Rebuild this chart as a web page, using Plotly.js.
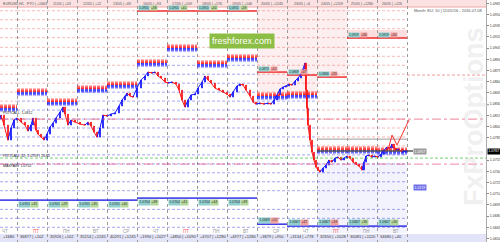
<!DOCTYPE html>
<html><head><meta charset="utf-8">
<script src="https://cdn.plot.ly/plotly-3.0.1.min.js"></script>
<style>html,body{margin:0;padding:0;background:#fff}#chart{width:500px;height:242px}</style>
</head><body><div id="chart"></div>
<script>
// ---- price series (hours from start, close prices) ----
const hours = [11.2,13.6,16.8,19.2,21.6,24,27.2,30.4,32.8,35.2,36.8,39.2,40.8,43.2,45.6,48,50.4,52.8,55.2,58.4,60.8,62.4,64.8,67.2,70.4,74.4,78.4,80.8,83.2,85.6,88,90.4,92.8,96,99.2,102.4,105.6,108,110.4,112,114.4,116.8,120,123.2,126.4,128.8,132,134.4,136.8,139.2,142.4,144.8,148,151.2,153.6,156,158.4,160.8,163.2,166.4,168.8,172,174.4,176.8,179.2,182.4,185.6,188.8,192,194.4,196.8,200,202.4,204.8,207.2,210.4,212.8,215.2,218.4,221.6,224.8,227.2,229.6,232,234.4,236.8,239.2,241.6,244,246.4,248.8,251.2,252.8,254.4,255.2,256,256.8,258.4,260,261.6,263.2,264.8,266.4,268.8,271.2,273.6,276,278.4,280.8,283.2,285.6,288,290.4,292.8,295.2,297.6,300,301.6,303.2,305.6,308,310.4,312.8,315.2,317.6,320,322.4,324,325.6,327.2,329.6,332,334.4,336];
const closes = [1.08153,1.08019,1.07818,1.07979,1.08086,1.08113,1.08059,1.08019,1.07939,1.08019,1.08113,1.07952,1.07898,1.07858,1.07818,1.07898,1.07992,1.08046,1.08113,1.08193,1.08260,1.08166,1.08019,1.08086,1.08059,1.08032,1.08019,1.08059,1.08006,1.07925,1.07858,1.07979,1.08153,1.08140,1.08166,1.08180,1.08274,1.08354,1.08408,1.08448,1.08408,1.08394,1.08515,1.08622,1.08676,1.08729,1.08716,1.08729,1.08676,1.08649,1.08595,1.08582,1.08595,1.08568,1.08488,1.08354,1.08260,1.08354,1.08421,1.08434,1.08515,1.08595,1.08676,1.08622,1.08582,1.08515,1.08488,1.08461,1.08434,1.08394,1.08461,1.08542,1.08568,1.08555,1.08488,1.08408,1.08327,1.08300,1.08314,1.08300,1.08314,1.08300,1.08354,1.08421,1.08501,1.08528,1.08542,1.08568,1.08555,1.08609,1.08649,1.08702,1.08769,1.08850,1.08488,1.08247,1.08019,1.07818,1.07657,1.07550,1.07456,1.07416,1.07389,1.07443,1.07483,1.07550,1.07523,1.07577,1.07590,1.07550,1.07577,1.07604,1.07577,1.07523,1.07496,1.07470,1.07416,1.07523,1.07604,1.07617,1.07590,1.07604,1.07590,1.07630,1.07684,1.07724,1.07711,1.07764,1.07711,1.07684,1.07697,1.07657,1.07671,1.07671];
// forecast path
const fcHours = [320.8,324,328,331.2,337.6];
const fcPrices = [1.07684,1.07885,1.07751,1.07858,1.08086];

// price axis labels (the one under the current-price box is hidden, as in the reference)
const priceTicks = [1.0965,1.0950,1.0935,1.0920,1.0905,1.0890,1.0875,1.0860,1.0845,1.0830,1.0815,1.0800,1.0785,1.0755,1.0740,1.0725,1.0710,1.0695,1.0680,1.0665,1.0650];

// ---- day segments ----
const segEdges = [10.4,24,48,72,96,120,144,168,192,216,240,264,288,312,336];
const dayLines = [24,48,72,96,120,144,168,192,216,240,264,288,312,336];
const weekdays = ["ЧТ","ПТ","ПН","ВТ","СР","ЧТ","ПТ","ПН","ВТ","СР","ЧТ","ПТ","ПН","ВТ"];
const topLabels = ["EURUSD,H1 · FTO | +1663","","11/05 | +53","12/05 | +12","13/05 | +69","16/05 | +93","17/05 | +109","18/05 | +176","19/05 | +146","20/05 | +1245","23/05 | +6","24/05 | +1209","25/05 | +1280","26/05 | +126"];
const bottomLabels = ["+1680","36877 | +102","35926 | +102","35214 | +1245","40291 | +1245","+1990 | +1027","+4850 | +1090","+4707 | +1280","+4977 | +1280","+3879 | +950","+3134 | +778","32650 | +1028","30081 | +1120","34680 | +40"];

// option strike levels and per-day band centres
const strikes = [1.0955,1.0943,1.0931,1.0919,1.0906,1.0894,1.0882,1.0870,1.0858,1.0846,1.0834,1.0822,1.0810,1.0798,1.0786,1.0774,1.0762,1.0750,1.0738,1.0726,1.0714,1.0689,1.0677,1.0665];
const bandCenters = [1.08247,1.08461,1.08327,1.08501,1.08555,1.08850,1.09051,1.08836,1.08917,1.08408,1.08421,1.07684,1.07684,1.07671];
const bandOffsets = [0.00008,0.00016,0.00024,0.00032,0.0004,0.00048];
const segMax = [null,null,null,null,null,1.09547,1.09547,1.09547,1.09547,1.08729,1.08689,1.08662,1.09185,1.09185];
const segMin = [1.07014,1.07014,1.07014,1.07014,1.07014,1.07041,1.07041,1.07041,1.07041,1.06692,1.06666,1.06666,1.06666,1.06666];
const maxTags = ["","","","","","1.0955","1.0955","1.0955","1.0955","1.0873","1.0869","1.0866","1.0919","1.0919"];
const minTags = ["1.0701","1.0701","1.0701","1.0701","1.0701","1.0704","1.0704","1.0704","1.0704","1.0669","1.0667","1.0667","1.0667","1.0667"];
const tagVals = ["+28","+31","+29","+35","+40","+38","+41","+44","+39","+52","+47","+33","+36","+30"];

// long levels
const levelDashDot = 1.08099;
const levelGreen = 1.07577;
const levelPink = 1.07496;
const levelRight = 1.08689;
const levelGray = 1.07831;
const levelBlueTag = 1.07188;
const lastPrice = closes[closes.length-1];

const traces = [];
function segLines(filterFn){
  const x=[],y=[];
  for(let i=0;i<bandCenters.length;i++){
    strikes.forEach(s=>{ if(filterFn(s,i)){ x.push(segEdges[i],segEdges[i+1],null); y.push(s,s,null);} });
  }
  return {x,y};
}
const red = segLines((s,i)=> s>bandCenters[i]+0.0003);
const blue = segLines((s,i)=> s<bandCenters[i]-0.0003);
traces.push({type:'scatter',mode:'lines',x:red.x,y:red.y,line:{color:'rgba(235,90,90,0.42)',width:1,dash:'3px,2px'},hoverinfo:'skip'});
traces.push({type:'scatter',mode:'lines',x:blue.x,y:blue.y,line:{color:'rgba(60,60,225,0.45)',width:1,dash:'3px,2px'},hoverinfo:'skip'});

bandOffsets.forEach((o,k)=>{
  const xr=[],yr=[],xb=[],yb=[];
  for(let i=0;i<bandCenters.length;i++){
    xr.push(segEdges[i],segEdges[i+1],null); yr.push(bandCenters[i]+o,bandCenters[i]+o,null);
    xb.push(segEdges[i],segEdges[i+1],null); yb.push(bandCenters[i]-o,bandCenters[i]-o,null);
  }
  const a = 0.9 - k*0.14;
  traces.push({type:'scatter',mode:'lines',x:xr,y:yr,line:{color:`rgba(255,30,30,${a})`,width:1,dash:'3px,1px'},hoverinfo:'skip'});
  traces.push({type:'scatter',mode:'lines',x:xb,y:yb,line:{color:`rgba(30,30,255,${a})`,width:1,dash:'3px,1px'},hoverinfo:'skip'});
});

// max / min solid lines
(function(){
  const xm=[],ym=[],xn=[],yn=[];
  for(let i=0;i<segMax.length;i++){
    if(segMax[i]!==null){xm.push(segEdges[i],segEdges[i+1],null); ym.push(segMax[i],segMax[i],null);}
    xn.push(segEdges[i],segEdges[i+1],null); yn.push(segMin[i],segMin[i],null);
  }
  traces.push({type:'scatter',mode:'lines',x:xm,y:ym,line:{color:'#f03030',width:1.5},hoverinfo:'skip'});
  traces.push({type:'scatter',mode:'lines',x:xn,y:yn,line:{color:'#3030e8',width:1.5},hoverinfo:'skip'});
})();

const xFull=[10.4,399.2];
traces.push({type:'scatter',mode:'lines',x:xFull,y:[levelDashDot,levelDashDot],line:{color:'rgba(230,80,110,0.7)',width:1,dash:'dashdot'},hoverinfo:'skip'});
traces.push({type:'scatter',mode:'lines',x:xFull,y:[levelGreen,levelGreen],line:{color:'rgba(60,190,60,0.7)',width:1,dash:'3px,2px'},hoverinfo:'skip'});
traces.push({type:'scatter',mode:'lines',x:xFull,y:[levelPink,levelPink],line:{color:'rgba(240,80,140,0.7)',width:1,dash:'dashdot'},hoverinfo:'skip'});
traces.push({type:'scatter',mode:'lines',x:[336,399.2],y:[levelRight,levelRight],line:{color:'rgba(235,90,90,0.6)',width:1,dash:'3px,2px'},hoverinfo:'skip'});
traces.push({type:'scatter',mode:'lines',x:[264,336],y:[levelGray,levelGray],line:{color:'#9a9a9a',width:1},hoverinfo:'skip'});
traces.push({type:'scatter',mode:'lines',x:[264,340.8],y:[lastPrice,lastPrice],line:{color:'#555',width:1.5},hoverinfo:'skip'});

// price path: rising steps blue, falling steps red
(function(){
  const ux=[],uy=[],dx=[],dy=[];
  for(let i=1;i<closes.length;i++){
    const tx = closes[i]>=closes[i-1] ? [ux,uy] : [dx,dy];
    tx[0].push(hours[i-1],hours[i],null); tx[1].push(closes[i-1],closes[i],null);
  }
  traces.push({type:'scatter',mode:'lines',x:ux,y:uy,line:{color:'#1515ff',width:1},hoverinfo:'skip'});
  traces.push({type:'scatter',mode:'lines',x:dx,y:dy,line:{color:'#ff1515',width:1},hoverinfo:'skip'});
})();
const opens = closes.map((c,i)=> i===0 ? 1.0810 : closes[i-1]);
traces.push({type:'candlestick', x:hours, open:opens, close:closes,
  high:closes.map((c,i)=>Math.max(c,opens[i])), low:closes.map((c,i)=>Math.min(c,opens[i])),
  increasing:{line:{color:'#1010ff',width:1},fillcolor:'#1010ff'},
  decreasing:{line:{color:'#ff1010',width:1},fillcolor:'#ff1010'},
  whiskerwidth:0, hoverinfo:'skip'});
traces.push({type:'scatter',mode:'lines',x:fcHours,y:fcPrices,line:{color:'#ff3030',width:1},hoverinfo:'skip'});

// shapes
const shapes = [
  {type:'rect',xref:'paper',yref:'paper',x0:0,x1:1,y0:1-7/242,y1:1,fillcolor:'#fbe1e1',line:{width:0},layer:'below'},
  {type:'line',xref:'paper',yref:'paper',x0:0,x1:1,y0:1-7/242,y1:1-7/242,line:{color:'#f4a8a8',width:1},layer:'below'},
  {type:'rect',xref:'paper',yref:'paper',x0:0,x1:1,y0:0,y1:8/242,fillcolor:'#e4e4f8',line:{width:0},layer:'below'},
  {type:'rect',xref:'x',yref:'y',x0:216,x1:264,y0:1.08461,y1:1.09600,fillcolor:'rgba(250,215,215,0.4)',line:{width:0},layer:'below'},
  {type:'rect',xref:'x',yref:'y',x0:264,x1:288,y0:1.08662,y1:1.09600,fillcolor:'rgba(250,215,215,0.4)',line:{width:0},layer:'below'},
  {type:'rect',xref:'x',yref:'y',x0:288,x1:336,y0:1.09185,y1:1.09292,fillcolor:'rgba(250,200,200,0.6)',line:{width:0},layer:'below'},
  {type:'rect',xref:'x',yref:'y',x0:264,x1:336,y0:1.06572,y1:1.07496,fillcolor:'rgba(215,215,248,0.3)',line:{width:0},layer:'below'}
];

const ann = [];
const F = 'Liberation Sans, Arial';
const tiny = {family:F,size:3.6,color:'#555'};
for(let i=0;i<14;i++){
  const c=(segEdges[i]+segEdges[i+1])/2;
  if(i===0){
    ann.push({x:11.2,y:1,xref:'x',yref:'paper',xanchor:'left',yanchor:'top',yshift:0.5,text:topLabels[0],showarrow:false,font:tiny});
    ann.push({x:14.4,y:1.06590,xref:'x',yref:'y',text:weekdays[0],showarrow:false,font:{family:F,size:4.5,color:'#999'}});
  } else {
    if(topLabels[i]) ann.push({x:c,y:1,xref:'x',yref:'paper',yanchor:'top',yshift:0.5,text:topLabels[i],showarrow:false,font:tiny});
    ann.push({x:c+3,y:1.06590,xref:'x',yref:'y',text:weekdays[i],showarrow:false,font:{family:F,size:4.5,color:weekdays[i]==='ПТ'?'#ff5a5a':'#999'}});
  }
  ann.push({x:segEdges[i]+0.8,y:0.0,xref:'x',yref:'paper',xanchor:'left',yanchor:'bottom',yshift:1,text:bottomLabels[i],showarrow:false,font:{family:F,size:4,color:'#333'}});
  if(i>0){
    const below = i<9;
    ann.push({x:segEdges[i]+0.8,y:segMin[i],xref:'x',yref:'y',xanchor:'left',yanchor:below?'top':'bottom',yshift:below?-0.5:0.5,text:minTags[i],showarrow:false,bgcolor:'#8fd0cf',borderpad:0.3,font:{family:F,size:3.5,color:'#333'}});
    ann.push({x:segEdges[i]+10,y:segMin[i],xref:'x',yref:'y',xanchor:'left',yanchor:below?'top':'bottom',yshift:below?-0.5:0.5,text:tagVals[i],showarrow:false,bgcolor:i>=9&&i<=11?'#f2a0a0':'#b4d89a',borderpad:0.3,font:{family:F,size:3.5,color:'#333'}});
  }
  if(segMax[i]!==null){
    ann.push({x:segEdges[i]+0.8,y:segMax[i],xref:'x',yref:'y',xanchor:'left',yanchor:'bottom',yshift:-0.3,text:maxTags[i],showarrow:false,bgcolor:'#8fd0cf',borderpad:0,font:{family:F,size:3.2,color:'#333'}});
    ann.push({x:segEdges[i]+10,y:segMax[i],xref:'x',yref:'y',xanchor:'left',yanchor:'bottom',yshift:-0.3,text:tagVals[i],showarrow:false,bgcolor:i>=9?'#f2a0a0':'#b4d89a',borderpad:0,font:{family:F,size:3.2,color:'#333'}});
  }
}
// left info texts
ann.push({x:11.2,y:1.08125,xref:'x',yref:'y',xanchor:'left',yanchor:'bottom',text:'PUT/CALL: 1.0812',showarrow:false,font:{family:F,size:3.5,color:'#222'}});
ann.push({x:11.2,y:1.07604,xref:'x',yref:'y',xanchor:'left',text:'PUT/CALL (D): 1.0759 | 10.85',showarrow:false,font:{family:F,size:3.5,color:'#222'}});
ann.push({x:11.2,y:1.07523,xref:'x',yref:'y',xanchor:'left',yanchor:'top',text:'MAXPAIN: 1.0750',showarrow:false,font:{family:F,size:3.5,color:'#222'}});
// top-right info
ann.push({x:0.995,y:1.09547,xref:'paper',yref:'y',xanchor:'right',text:'Month: EU: 10 | 11/05/16 - 2016.07.08',showarrow:false,font:{family:F,size:4,color:'#555'}});
// current price tags
ann.push({x:340.8,y:lastPrice,xref:'x',yref:'y',xanchor:'left',text:lastPrice.toFixed(4),showarrow:false,bgcolor:'#9a9a9a',borderpad:0.5,font:{family:F,size:3.5,color:'#fff'}});
ann.push({x:1,y:lastPrice,xref:'paper',yref:'y',xanchor:'left',xshift:1,text:lastPrice.toFixed(4),showarrow:false,bgcolor:'#000',borderpad:0.3,font:{family:F,size:3.6,color:'#fff'}});
ann.push({x:340.8,y:levelBlueTag,xref:'x',yref:'y',xanchor:'left',text:'1.0719',showarrow:false,bgcolor:'#7070e8',borderpad:0.5,font:{family:F,size:3.5,color:'#fff'}});
// watermarks
ann.push({x:204,y:1.09144,xref:'x',yref:'y',text:'freshforex.com',showarrow:false,bgcolor:'#8cbd45',borderpad:2,font:{family:F,size:9,color:'#fff'}});
ann.push({x:390,y:1.08134,xref:'x',yref:'y',text:'<b>FxProOptions</b>',textangle:-90,showarrow:false,font:{family:F,size:27,color:'rgba(215,215,215,0.4)'}});

const layout = {
  width:500,height:242,margin:{l:0,r:14,t:0,b:0},
  paper_bgcolor:'#fff',plot_bgcolor:'#fff',showlegend:false,hovermode:false,
  xaxis:{range:[10.4,399.2],tickvals:dayLines,showgrid:true,gridcolor:'#9a9a9a',griddash:'dot',gridwidth:1,
    showticklabels:false,ticks:'',zeroline:false,showline:false,rangeslider:{visible:false},fixedrange:true},
  yaxis:{range:[1.064531,1.096942],side:'right',tickvals:priceTicks,tickformat:'.4f',ticks:'outside',ticklen:2,
    ticklabelstandoff:0,tickcolor:'#888',showline:true,linecolor:'#aaa',showgrid:false,zeroline:false,automargin:false,
    tickfont:{family:F,size:3.6,color:'#333'},fixedrange:true},
  shapes:shapes,annotations:ann
};
Plotly.newPlot('chart',traces,layout,{staticPlot:true,displayModeBar:false});
</script></body></html>
